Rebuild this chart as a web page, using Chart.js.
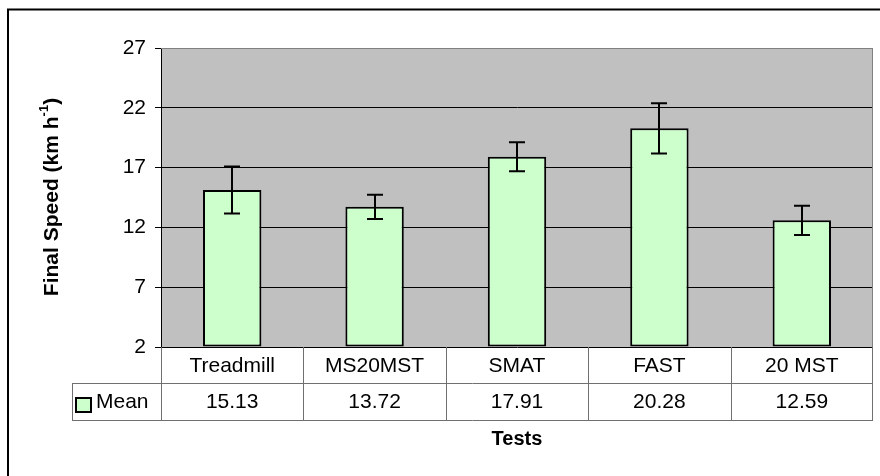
<!DOCTYPE html>
<html>
<head>
<meta charset="utf-8">
<script src="https://cdn.jsdelivr.net/npm/chart.js@4.4.1/dist/chart.umd.min.js"></script>
<style>
  html, body { margin: 0; padding: 0; background: #fff; }
  #wrap { width: 880px; height: 476px; }
</style>
</head>
<body>
<div id="wrap"><canvas id="speedChart" width="880" height="476"></canvas></div>
<script>
// Final speed per test (mean and error bar half-length)
const categories = ['Treadmill', 'MS20MST', 'SMAT', 'FAST', '20 MST'];
const meanSpeed = [15.13, 13.72, 17.91, 20.28, 12.59];
const errorSpeed = [1.97, 1.02, 1.22, 2.1, 1.22];
const yTicks = [2, 7, 12, 17, 22, 27];
const seriesName = 'Mean';

const FONT = '"Liberation Sans", Arial, sans-serif';
const barColor = '#ccffcc';

// Grey plot background + grey frame
const plotBackground = {
    id: 'plotBackground',
    beforeDraw(chart) {
        const a = chart.chartArea;
        const ctx = chart.ctx;
        ctx.save();
        ctx.fillStyle = '#c0c0c0';
        ctx.fillRect(a.left, a.top, a.right - a.left, a.bottom - a.top);
        ctx.restore();
    },
    afterDatasetsDraw(chart) {
        const a = chart.chartArea;
        const ctx = chart.ctx;
        ctx.save();
        ctx.strokeStyle = '#808080';
        ctx.lineWidth = 1;
        ctx.beginPath();
        ctx.moveTo(a.left, a.top + 0.5);
        ctx.lineTo(a.right - 0.5, a.top + 0.5);
        ctx.lineTo(a.right - 0.5, a.bottom);
        ctx.stroke();
        ctx.restore();
    }
};

// Error bars on top of each bar
const errorBars = {
    id: 'errorBars',
    afterDatasetsDraw(chart) {
        const ctx = chart.ctx;
        const y = chart.scales.y;
        const meta = chart.getDatasetMeta(0);
        ctx.save();
        ctx.strokeStyle = '#000';
        ctx.lineWidth = 2;
        meta.data.forEach((bar, i) => {
            const x = Math.round(bar.x);
            const top = y.getPixelForValue(meanSpeed[i] + errorSpeed[i]);
            const bottom = y.getPixelForValue(meanSpeed[i] - errorSpeed[i]);
            ctx.beginPath();
            ctx.moveTo(x, top);
            ctx.lineTo(x, bottom);
            ctx.moveTo(x - 8, top);
            ctx.lineTo(x + 8, top);
            ctx.moveTo(x - 8, bottom);
            ctx.lineTo(x + 8, bottom);
            ctx.stroke();
        });
        ctx.restore();
    }
};

// Data table under the plot, axis titles and outer frame
const dataTable = {
    id: 'dataTable',
    afterDraw(chart) {
        const ctx = chart.ctx;
        const a = chart.chartArea;
        const x = chart.scales.x;
        const half = (a.right - a.left) / categories.length / 2;
        const row1 = a.bottom;
        const row2 = row1 + 36;
        const row3 = row2 + 37;
        const legendLeft = 72;

        ctx.save();
        ctx.strokeStyle = '#707070';
        ctx.lineWidth = 1;
        ctx.beginPath();
        // horizontal lines
        ctx.moveTo(legendLeft, row2 + 0.5);
        ctx.lineTo(a.right, row2 + 0.5);
        ctx.moveTo(legendLeft, row3 + 0.5);
        ctx.lineTo(a.right, row3 + 0.5);
        // legend cell left edge
        ctx.moveTo(legendLeft + 0.5, row2);
        ctx.lineTo(legendLeft + 0.5, row3);
        // category separators
        for (let i = 0; i <= categories.length; i++) {
            const px = Math.round(x.getPixelForValue(i) - half) + 0.5;
            const pxr = Math.min(px, a.right - 0.5);
            ctx.moveTo(pxr, row1);
            ctx.lineTo(pxr, row3);
        }
        ctx.stroke();

        ctx.fillStyle = '#000';
        ctx.font = '21px ' + FONT;
        ctx.textAlign = 'center';
        ctx.textBaseline = 'middle';
        categories.forEach((c, i) => {
            const cx = x.getPixelForValue(i);
            ctx.fillText(c, cx, (row1 + row2) / 2 + 1);
            ctx.fillText(meanSpeed[i].toFixed(2), cx, (row2 + row3) / 2 + 1);
        });

        // legend key
        ctx.fillStyle = barColor;
        ctx.fillRect(76, 398, 15, 14);
        ctx.strokeStyle = '#000';
        ctx.lineWidth = 2;
        ctx.strokeRect(76, 398, 15, 14);
        ctx.fillStyle = '#000';
        ctx.textAlign = 'left';
        ctx.fillText(seriesName, 96, (row2 + row3) / 2 + 1);

        // x title
        ctx.font = 'bold 20px ' + FONT;
        ctx.textAlign = 'center';
        ctx.fillText('Tests', (a.left + a.right) / 2, 439);

        // y title with superscript
        ctx.save();
        ctx.translate(52, 197);
        ctx.rotate(-Math.PI / 2);
        const main = 'Final Speed (km h';
        const sup = '-1';
        const close = ')';
        ctx.font = 'bold 21px ' + FONT;
        const wMain = ctx.measureText(main).width;
        const wClose = ctx.measureText(close).width;
        ctx.font = 'bold 13px ' + FONT;
        const wSup = ctx.measureText(sup).width;
        const total = wMain + wSup + wClose;
        let pos = -total / 2;
        ctx.textAlign = 'left';
        ctx.font = 'bold 21px ' + FONT;
        ctx.fillText(main, pos, 0);
        pos += wMain;
        ctx.font = 'bold 13px ' + FONT;
        ctx.fillText(sup, pos, -8);
        pos += wSup;
        ctx.font = 'bold 21px ' + FONT;
        ctx.fillText(close, pos, 0);
        ctx.restore();

        // outer chart frame
        ctx.strokeStyle = '#000';
        ctx.lineWidth = 2;
        ctx.beginPath();
        ctx.moveTo(8, 1000);
        ctx.lineTo(8, 9.5);
        ctx.lineTo(1000, 9.5);
        ctx.stroke();
        ctx.restore();
    }
};

const ctx = document.getElementById('speedChart').getContext('2d');
new Chart(ctx, {
    type: 'bar',
    data: {
        labels: categories,
        datasets: [{
            label: seriesName,
            data: meanSpeed,
            base: yTicks[0],
            backgroundColor: barColor,
            borderColor: '#000',
            borderWidth: 2,
            borderSkipped: false,
            categoryPercentage: 1,
            barPercentage: 0.41
        }]
    },
    options: {
        responsive: false,
        animation: false,
        layout: {
            padding: { top: 48, right: 7, bottom: 129, left: 0 }
        },
        plugins: {
            legend: { display: false },
            tooltip: { enabled: false }
        },
        scales: {
            x: {
                display: false
            },
            y: {
                min: yTicks[0],
                max: yTicks[yTicks.length - 1],
                afterFit: axis => { axis.width = 161; },
                afterBuildTicks: axis => { axis.ticks = yTicks.map(v => ({ value: v })); },
                grid: {
                    color: c => (c.tick && c.tick.value === yTicks[yTicks.length - 1]) ? '#808080' : '#000',
                    tickColor: '#000',
                    tickLength: 6,
                    lineWidth: 1
                },
                border: { display: true, color: '#000', width: 1 },
                ticks: {
                    color: '#000',
                    padding: 9,
                    font: { family: FONT, size: 21 }
                }
            }
        }
    },
    plugins: [plotBackground, errorBars, dataTable]
});
</script>
</body>
</html>
